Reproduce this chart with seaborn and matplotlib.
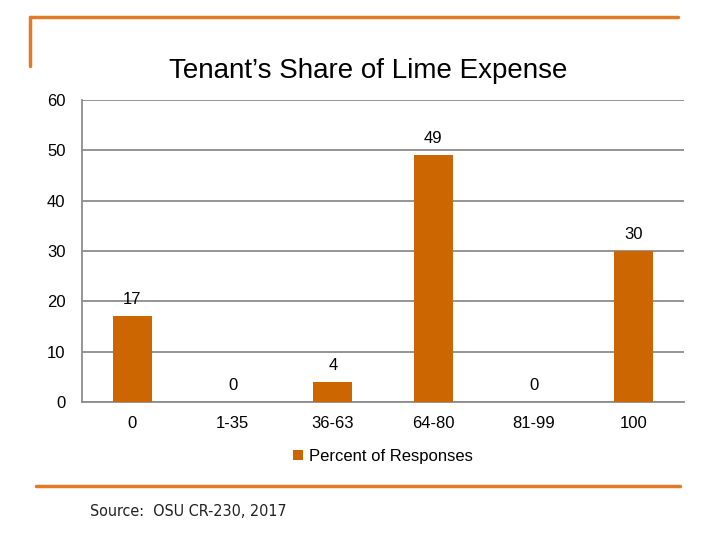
import matplotlib
matplotlib.use("Agg")
import matplotlib.pyplot as plt
from matplotlib.lines import Line2D
import pandas as pd
import seaborn as sns

# ---------------- Data ----------------
categories = ["0", "1-35", "36-63", "64-80", "81-99", "100"]
percent_responses = [17, 0, 4, 49, 0, 30]
series_name = "Percent of Responses"

df = pd.DataFrame({"Share": categories, "Percent": percent_responses})

# ---------------- Style ----------------
sns.set_style("white")
plt.rcParams["font.family"] = ["Liberation Sans", "DejaVu Sans"]
plt.rcParams["text.color"] = "black"
plt.rcParams["xtick.color"] = "black"
plt.rcParams["ytick.color"] = "black"

bar_color = "#CC6600"
frame_color = "#E07B28"
grid_color = "#8C8C8C"

fig = plt.figure(figsize=(7.2, 5.4), dpi=100)
ax = fig.add_axes([0.114, 0.2556, 0.836, 0.5594])

sns.barplot(data=df, x="Share", y="Percent", color=bar_color, width=0.39,
            saturation=1, linewidth=0, label=series_name, ax=ax, zorder=3)

ax.set_ylim(0, 60)
ax.set_yticks(range(0, 61, 10))
ax.set_xlim(-0.5, len(categories) - 0.5)
ax.yaxis.grid(True, color=grid_color, linewidth=1.3, zorder=0)
ax.set_axisbelow(True)
ax.set_xlabel("")
ax.set_ylabel("")

for side in ["top", "right"]:
    ax.spines[side].set_visible(False)
for side in ["left", "bottom"]:
    ax.spines[side].set_color(grid_color)
    ax.spines[side].set_linewidth(1.3)

# x ticks at category boundaries, labels centred on bars
ax.set_xticks([i + 0.5 for i in range(-1, len(categories))], minor=False)
ax.set_xticklabels([""] * (len(categories) + 1))
ax.set_xticks(range(len(categories)), minor=True)
ax.set_xticklabels(categories, minor=True)
ax.tick_params(axis="x", which="major", length=5, color=grid_color, width=1.3, direction="out")
ax.tick_params(axis="x", which="minor", length=0, labelsize=12, pad=10)
ax.tick_params(axis="y", length=5, color=grid_color, width=1.3, direction="out",
               labelsize=12, pad=7)

# value labels
for i, v in enumerate(percent_responses):
    ax.annotate(str(v), (i, v), xytext=(0, 12), textcoords="offset points",
                ha="center", va="center", fontsize=12)

ax.set_title("Tenant\u2019s Share of Lime Expense", fontsize=20, pad=16, x=0.475)

ax.legend(loc="upper center", bbox_to_anchor=(0.5, -0.105), frameon=False,
          fontsize=12, handlelength=0.6, handleheight=0.6, handletextpad=0.4)

# slide frame decoration
fig.add_artist(Line2D([0.042, 0.942], [0.969, 0.969], color=frame_color, lw=2.5))
fig.add_artist(Line2D([0.042, 0.042], [0.969, 0.878], color=frame_color, lw=2.5))
fig.add_artist(Line2D([0.05, 0.944], [0.100, 0.100], color=frame_color, lw=2.5))

fig.text(0.125, 0.052, "Source:  OSU CR-230, 2017", fontsize=11.5, color="#222222",
         va="center", family=["DejaVu Sans"], fontstretch="condensed")

fig.savefig("out.png", dpi=100)
